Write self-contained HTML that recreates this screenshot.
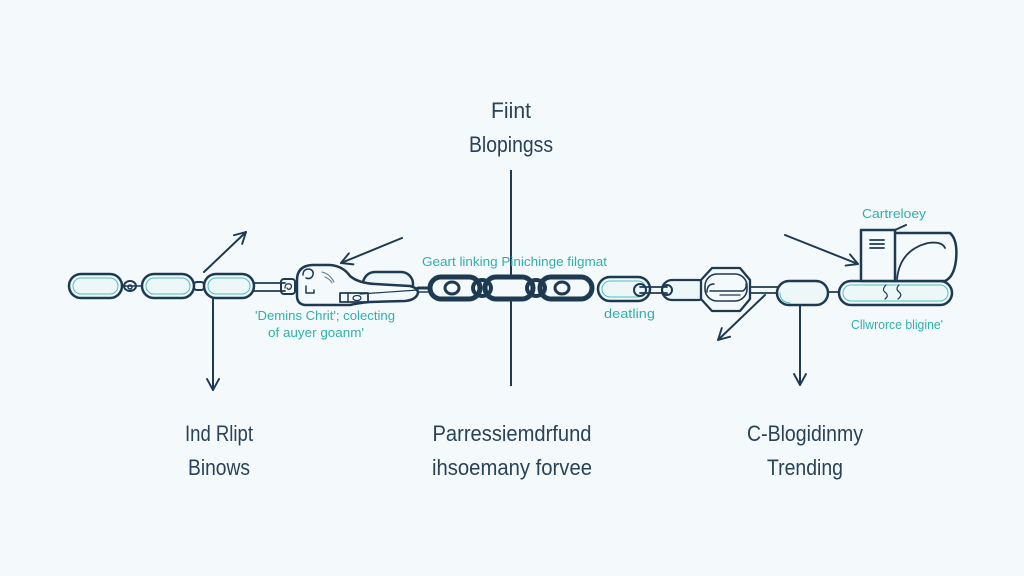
<!DOCTYPE html>
<html><head><meta charset="utf-8"><style>
html,body{margin:0;padding:0;background:#f4f9fb;}
svg{display:block;}
.lbl{font-family:"Liberation Sans Narrow","Liberation Sans",sans-serif;fill:#2a4257;font-size:22px;}
.tl{font-family:"Liberation Sans Narrow","Liberation Sans",sans-serif;fill:#2fb0ad;font-size:13px;}
</style></head><body>
<svg width="1024" height="576" viewBox="0 0 1024 576" xmlns="http://www.w3.org/2000/svg">
<defs>
<marker id="ah" viewBox="0 0 14 14" refX="12" refY="7" markerWidth="14" markerHeight="14" markerUnits="userSpaceOnUse" orient="auto">
<path d="M1,1 L12,7 L1,13" fill="none" stroke="#1e3a52" stroke-width="1.9" stroke-linecap="round" stroke-linejoin="round"/>
</marker>
</defs>
<rect width="1024" height="576" fill="#f4f9fb"/>

<!-- top labels -->
<text class="lbl" x="511" y="118" text-anchor="middle" textLength="40" lengthAdjust="spacingAndGlyphs">Fiint</text>
<text class="lbl" x="511" y="152" text-anchor="middle" textLength="84" lengthAdjust="spacingAndGlyphs">Blopingss</text>

<!-- center vertical line -->
<line x1="511" y1="170" x2="511" y2="386" stroke="#1e3a52" stroke-width="2"/>

<g fill="none" stroke="#1e3a52" stroke-linecap="round" stroke-linejoin="round">
<!-- left links -->
<rect x="69" y="274" width="53" height="24" rx="12" fill="#eef7f8" stroke-width="2.5"/>
<rect x="73" y="278" width="45" height="16" rx="8" stroke="#4fc0bf" stroke-width="1"/>
<rect x="142" y="274" width="52" height="24" rx="12" fill="#eef7f8" stroke-width="2.5"/>
<rect x="146" y="278" width="44" height="16" rx="8" stroke="#4fc0bf" stroke-width="1"/>
<rect x="204" y="274" width="50" height="24" rx="12" fill="#eef7f8" stroke-width="2.5"/>
<rect x="208" y="278" width="42" height="16" rx="8" stroke="#4fc0bf" stroke-width="1"/>
<!-- small connectors -->
<ellipse cx="130" cy="286" rx="6" ry="5" stroke-width="2"/>
<ellipse cx="130" cy="287" rx="2" ry="2" stroke-width="1.5"/>
<rect x="194" y="282" width="10" height="8" rx="3" stroke-width="2"/>
<line x1="122" y1="286" x2="142" y2="286" stroke-width="1.5"/>
<!-- bar to clasp -->
<line x1="254" y1="283" x2="285" y2="283" stroke-width="1.8"/>
<line x1="254" y1="291" x2="285" y2="291" stroke-width="1.8"/>
<rect x="281" y="279" width="14" height="15" rx="3" stroke-width="2"/>
<path d="M285,288 q0,-5 5,-4 q3,2 0,5 q-2,1 -3,-1" stroke-width="1.3"/>
<!-- link behind clasp -->
<rect x="363" y="272" width="50" height="25" rx="12" fill="#eef7f8" stroke-width="2.5"/>
<line x1="380" y1="288" x2="428" y2="288" stroke-width="1.5"/>
<line x1="380" y1="292" x2="428" y2="292" stroke-width="1.5"/>
<!-- clasp -->
<path d="M297,280 Q297,266 312,265 L330,265 Q343,266 350,276 Q358,283 375,284 L410,286 Q418,288 418,293 Q416,300 405,301 L370,302 Q358,303 350,305 L305,305 Q297,304 297,296 Z" fill="#f4f9fb" stroke-width="2.5"/>
<path d="M303,275 q0,-6 6,-6 q5,1 4,6 q-2,5 -7,3" stroke-width="1.5"/>
<path d="M306,286 v7 h8 v-3" stroke-width="1.5"/>
<path d="M322,272 q8,2 12,10 M325,277 q5,2 7,6" stroke-width="1" stroke="#5f7a8e"/>
<rect x="340" y="293" width="28" height="9" stroke-width="1.8"/>
<line x1="348" y1="293" x2="348" y2="302" stroke-width="1.5"/>
<ellipse cx="357" cy="298" rx="4" ry="2.5" stroke-width="1.3"/>
<path d="M360,294 L418,290" stroke-width="1.2"/>

<!-- central dark chain -->
<g stroke="#1e3a52" stroke-width="5">
<line x1="418" y1="288" x2="432" y2="288" stroke-width="3"/>
<rect x="430" y="277" width="50" height="22" rx="11" fill="#f4f9fb"/>
<rect x="485" y="277" width="48" height="22" rx="11" fill="#f4f9fb"/>
<rect x="540" y="277" width="52" height="22" rx="11" fill="#f4f9fb"/>
<ellipse cx="482" cy="288" rx="9" ry="8" stroke-width="4"/>
<ellipse cx="536" cy="288" rx="9" ry="8" stroke-width="4"/>
<ellipse cx="452" cy="288" rx="7" ry="6" stroke-width="3"/>
<ellipse cx="562" cy="288" rx="7" ry="6" stroke-width="3"/>
</g>

<!-- right links -->
<rect x="598" y="277" width="52" height="24" rx="12" fill="#eef7f8" stroke-width="2.5"/>
<rect x="602" y="281" width="44" height="16" rx="8" stroke="#4fc0bf" stroke-width="1"/>
<rect x="662" y="280" width="46" height="20" rx="10" fill="#eef7f8" stroke-width="2.2"/>
<line x1="640" y1="287" x2="667" y2="287" stroke-width="1.8"/>
<line x1="640" y1="293" x2="667" y2="293" stroke-width="1.8"/>
<ellipse cx="640" cy="290" rx="6" ry="6" stroke-width="2"/>
<ellipse cx="667" cy="290" rx="5" ry="5" stroke-width="2"/>
<!-- octagon link -->
<path d="M712,268 L740,268 L750,280 L750,299 L740,311 L712,311 L701,299 L701,280 Z" fill="#f4f9fb" stroke-width="2.3"/>
<rect x="705" y="274" width="42" height="27" rx="12" stroke-width="1.6"/>
<path d="M707,292 q0,-8 7,-8 M710,291 L743,291 q4,-3 3,-7" stroke-width="1.5"/>
<line x1="720" y1="295" x2="740" y2="295" stroke-width="1.3"/>
<line x1="750" y1="287" x2="780" y2="287" stroke-width="1.8"/>
<line x1="750" y1="293" x2="780" y2="293" stroke-width="1.8"/>
<rect x="777" y="281" width="51" height="24" rx="12" fill="#eef7f8" stroke-width="2.5"/>
<path d="M790,303 Q780,302 780,293" stroke="#4fc0bf" stroke-width="1"/>
<line x1="828" y1="292" x2="840" y2="292" stroke-width="1.8"/>
<!-- right long link -->
<rect x="839" y="281" width="113" height="24" rx="12" fill="#eef7f8" stroke-width="2.5"/>
<rect x="843" y="285" width="105" height="16" rx="8" stroke="#4fc0bf" stroke-width="1"/>
<path d="M886,285 q-5,5 0,8 q3,3 -1,6 M899,285 q-4,4 0,7 q4,3 -1,7" stroke-width="1.2"/>
<!-- box and dome -->
<path d="M893,233 L950,233 Q958,240 956,260 Q954,277 945,281 L893,281" fill="#f4f9fb" stroke-width="2.5"/>
<path d="M897,279 Q900,250 928,243 Q942,241 945,248" stroke-width="1.8"/>
<path d="M861,231 L895,230 L906,225" stroke-width="2"/>
<rect x="861" y="230" width="34" height="51" fill="#f4f9fb" stroke-width="2.5"/>
<line x1="870" y1="240" x2="884" y2="240" stroke-width="1.8"/>
<line x1="870" y1="244" x2="884" y2="244" stroke-width="1.8"/>
<line x1="870" y1="248" x2="884" y2="248" stroke-width="1.8"/>

<!-- arrows -->
<line x1="204" y1="272" x2="246" y2="232" stroke-width="2" marker-end="url(#ah)"/>
<line x1="213" y1="298" x2="213" y2="390" stroke-width="2" marker-end="url(#ah)"/>
<line x1="402" y1="238" x2="341" y2="263" stroke-width="2" marker-end="url(#ah)"/>
<line x1="765" y1="295" x2="718" y2="340" stroke-width="2" marker-end="url(#ah)"/>
<line x1="800" y1="305" x2="800" y2="385" stroke-width="2" marker-end="url(#ah)"/>
<line x1="785" y1="235" x2="858" y2="264" stroke-width="2" marker-end="url(#ah)"/>
</g>

<!-- teal labels -->
<text class="tl" x="422" y="266" textLength="185" lengthAdjust="spacingAndGlyphs">Geart linking Pinichinge filgmat</text>
<text class="tl" x="255" y="320" textLength="140" lengthAdjust="spacingAndGlyphs">'Demins Chrit'; colecting</text>
<text class="tl" x="268" y="337" textLength="96" lengthAdjust="spacingAndGlyphs">of auyer goanm'</text>
<text class="tl" x="604" y="318" textLength="51" lengthAdjust="spacingAndGlyphs">deatling</text>
<text class="tl" x="862" y="218" textLength="64" lengthAdjust="spacingAndGlyphs">Cartreloey</text>
<text class="tl" x="851" y="329" textLength="92" lengthAdjust="spacingAndGlyphs">Cllwrorce bligine'</text>

<!-- bottom labels -->
<text class="lbl" x="219" y="441" text-anchor="middle" textLength="68" lengthAdjust="spacingAndGlyphs">Ind Rlipt</text>
<text class="lbl" x="219" y="475" text-anchor="middle" textLength="62" lengthAdjust="spacingAndGlyphs">Binows</text>
<text class="lbl" x="512" y="441" text-anchor="middle" textLength="159" lengthAdjust="spacingAndGlyphs">Parressiemdrfund</text>
<text class="lbl" x="512" y="475" text-anchor="middle" textLength="160" lengthAdjust="spacingAndGlyphs">ihsoemany forvee</text>
<text class="lbl" x="805" y="441" text-anchor="middle" textLength="116" lengthAdjust="spacingAndGlyphs">C-Blogidinmy</text>
<text class="lbl" x="805" y="475" text-anchor="middle" textLength="76" lengthAdjust="spacingAndGlyphs">Trending</text>
</svg>
</body></html>
